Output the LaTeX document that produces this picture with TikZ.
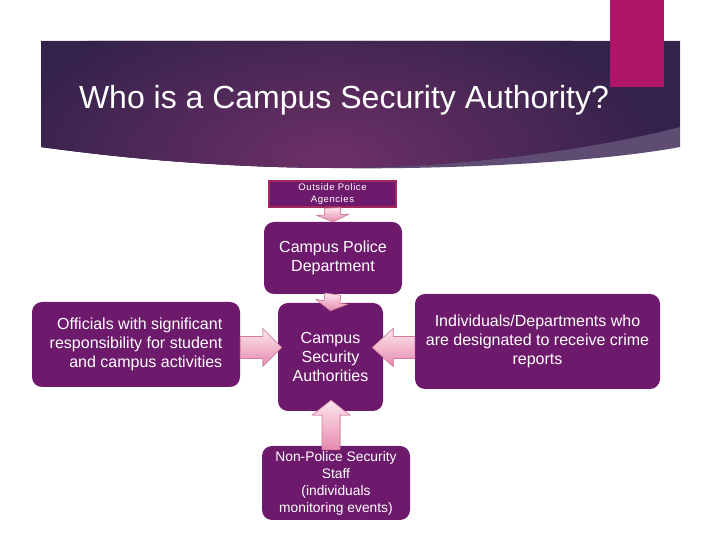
\documentclass[tikz,border=0pt]{standalone}
\usepackage{fontspec}
\setmainfont{Liberation Sans}
\newfontfamily\spacedfont[LetterSpace=6]{Liberation Sans}
\usetikzlibrary{calc}
\definecolor{boxpurple}{HTML}{6E1A6C}
\definecolor{agencyedge}{HTML}{A3285E}
\definecolor{arrowtop}{HTML}{FDE6EE}
\definecolor{arrowbottom}{HTML}{E68AAE}
\definecolor{arrowedge}{HTML}{D77A9E}
\definecolor{accent}{HTML}{B0156A}
\definecolor{bannerdark}{HTML}{33224A}
\definecolor{bannerlight}{HTML}{6E3066}
\definecolor{bannerwedge}{HTML}{5F4C72}
\tikzset{
 unit/.style={rounded corners=10pt,fill=boxpurple,text=white,align=center,inner sep=4pt,font=\fontsize{16}{19}\selectfont},
 agency/.style={draw=agencyedge,line width=2pt,fill=boxpurple,text=white,align=center,minimum width=127pt,minimum height=26pt,inner sep=1pt,font=\spacedfont\fontsize{9.5}{12}\selectfont},
 pinkarrow/.style={draw=arrowedge,line width=.6pt,top color=arrowtop,bottom color=arrowbottom},
 headline/.style={text=white,font=\fontsize{32}{38}\selectfont}
}
% block arrow: from, to, shaft half width, head half width, head length
\newcommand{\fatarrow}[5]{%
 \coordinate (fa-s) at (#1);
 \coordinate (fa-e) at (#2);
 \coordinate (fa-h) at ($(fa-e)!#5pt!(fa-s)$);
 \filldraw[pinkarrow] ($(fa-s)!#3pt!90:(fa-e)$) -- ($(fa-h)!#3pt!-90:(fa-s)$) -- ($(fa-h)!#4pt!-90:(fa-s)$) -- (fa-e)
  -- ($(fa-h)!#4pt!90:(fa-s)$) -- ($(fa-h)!#3pt!90:(fa-s)$) -- ($(fa-s)!#3pt!-90:(fa-e)$) -- cycle;}

\begin{document}
\begin{tikzpicture}[x=1pt,y=1pt]
\useasboundingbox (0,0) rectangle (720,540);
\fill[white] (0,0) rectangle (720,540);
% title banner
\fill[bannerwedge] (41,499) -- (680,499) -- (680,393) .. controls (600,378) and (450,370) .. (330,372)
  .. controls (200,373) and (100,385) .. (41,393) -- cycle;
\begin{scope}
\clip (41,499) -- (680,499) -- (680,413) .. controls (580,388) and (450,372) .. (330,372)
  .. controls (200,373) and (100,385) .. (41,393) -- cycle;
\fill[bannerdark] (41,360) rectangle (680,499);
\shade[inner color=bannerlight,outer color=bannerdark] (330,380) ellipse (340 and 170);
\end{scope}
\fill[accent] (610,540) rectangle (664,453);
\node[headline] (title) at (344,440) {Who is a Campus Security Authority?};
% boxes
\node[agency] (outside) at (332.5,346) {Outside Police\\Agencies};
\node[unit,minimum width=138,minimum height=72] (police) at (333,282) {Campus Police\\Department};
\node[unit,minimum width=105,minimum height=108] (csa) at (330.5,183) {Campus\\Security\\Authorities};
\node[unit,minimum width=208,minimum height=85,align=right] (officials) at (136,195.5)
  {Officials with significant\\responsibility for student\\and campus activities};
\node[unit,minimum width=245,minimum height=95] (reports) at (537.5,198.5)
  {Individuals/Departments who\\are designated to receive crime\\reports};
\node[unit,minimum width=148,minimum height=74,font=\fontsize{13.8}{17}\selectfont] (staff) at (336,57)
  {Non-Police Security\\Staff\\(individuals\\monitoring events)};
% arrows
\fatarrow{outside.south}{police.north}{8}{16}{7}
\fatarrow{police.south}{$(csa.north)+(0,-8)$}{8}{16}{9}
\fatarrow{$(officials.east)+(0,-3)$}{$(officials.east -| csa.west)+(4,-3)$}{11}{19}{19}
\fatarrow{$(reports.west)+(0,-6)$}{$(reports.west -| csa.east)+(-11,-6)$}{11}{19}{21}
\fatarrow{$(staff.north)+(-5,-4)$}{$(staff.north |- csa.south)+(-5,11)$}{9}{19}{15}
\end{tikzpicture}
\end{document}
